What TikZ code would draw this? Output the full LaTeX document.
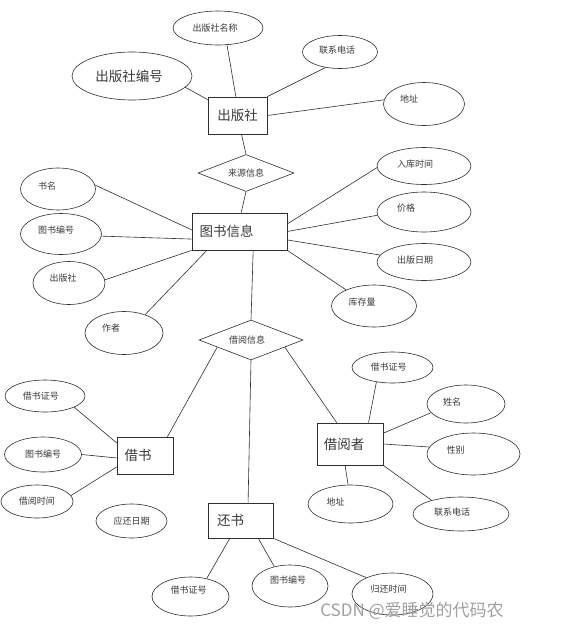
\documentclass[tikz,border=0pt]{standalone}
\usepackage{fontspec}
\setmainfont{Noto Sans CJK SC}
\usetikzlibrary{shapes.geometric}
\definecolor{inkline}{HTML}{2F2F2F}
\definecolor{inktext}{HTML}{3A3A3A}
\definecolor{markgrey}{HTML}{A0A0A0}
\newcommand{\smallcjk}{\fontsize{9pt}{10pt}\selectfont}
\newcommand{\bigcjk}{\fontsize{13.5pt}{15pt}\selectfont}
% text sits off-centre in most shapes: kern pushes it left, raise lifts it
\newcommand{\nudge}[3]{\raisebox{#2}{#3}\kern#1}
\tikzset{
  attrell/.style 2 args = {ellipse, draw=inkline, line width=0.6pt, inner sep=0pt,
                   minimum width=#1, minimum height=#2, text=inktext, font=\smallcjk},
  entbox/.style 2 args  = {rectangle, draw=inkline, line width=0.7pt, inner sep=0pt,
                   minimum width=#1, minimum height=#2, text=inktext, font=\bigcjk},
  relbox/.style 2 args  = {diamond, draw=inkline, line width=0.6pt, inner sep=0pt, aspect=2.5,
                   minimum width=#1, minimum height=#2, text=inktext, font=\smallcjk},
  link/.style = {draw=inkline, line width=0.6pt},
}

\begin{document}
\begin{tikzpicture}[x=1pt,y=-1pt]
    \useasboundingbox[fill=white] (0,0) rectangle (567,630);
    % publisher
    \node[entbox={59pt}{37pt}] (pub) at (237.5,115.5) {出版社};
    \node[attrell={90pt}{34pt}] (pubname) at (218,28) {\nudge{6pt}{0pt}{出版社名称}};
    \node[attrell={120pt}{48pt},font=\bigcjk] (pubid) at (132,76) {\nudge{6pt}{0pt}{出版社编号}};
    \node[attrell={75pt}{33pt}] (pubtel) at (340,52) {\nudge{6pt}{4pt}{联系电话}};
    \node[attrell={81pt}{43pt}] (pubaddr) at (424,104) {\nudge{30pt}{10pt}{地址}};
    \node[relbox={96pt}{37pt}] (src) at (246,173) {来源信息};
    % book
    \node[entbox={95pt}{37pt}] (book) at (239.5,231.5) {\nudge{26pt}{0pt}{图书信息}};
    \node[attrell={75pt}{42pt}] (bname) at (58,189) {\nudge{22pt}{6pt}{书名}};
    \node[attrell={81pt}{41pt}] (bid) at (61,234) {\nudge{10pt}{8pt}{图书编号}};
    \node[attrell={72pt}{43pt}] (bpub) at (69,283) {\nudge{12pt}{10pt}{出版社}};
    \node[attrell={78pt}{43pt}] (bauthor) at (124,333) {\nudge{26pt}{10pt}{作者}};
    \node[attrell={94pt}{37pt}] (bin) at (424,166) {\nudge{18pt}{4pt}{入库时间}};
    \node[attrell={94pt}{40pt}] (bprice) at (424,212) {\nudge{36pt}{8pt}{价格}};
    \node[attrell={94pt}{37pt}] (bdate) at (424,262) {\nudge{18pt}{4pt}{出版日期}};
    \node[attrell={85pt}{42pt}] (bstock) at (374,306) {\nudge{24pt}{8pt}{库存量}};
    \node[relbox={104pt}{40pt}] (lend) at (251,340) {\nudge{8pt}{0pt}{借阅信息}};
    % borrowing
    \node[entbox={56pt}{37pt}] (borrow) at (145,455.5) {\nudge{14pt}{0pt}{借书}};
    \node[attrell={80pt}{32pt}] (lcard) at (45,396) {\nudge{8pt}{0pt}{借书证号}};
    \node[attrell={77pt}{35pt}] (lbid) at (43,454.5) {图书编号};
    \node[attrell={72pt}{33pt}] (ltime) at (37,501.5) {借阅时间};
    \node[attrell={71pt}{34pt}] (due) at (131.5,521) {应还日期};
    % reader
    \node[entbox={66pt}{42pt}] (reader) at (350,444) {\nudge{12pt}{0pt}{借阅者}};
    \node[attrell={81pt}{31pt}] (rcard) at (392.5,367.5) {\nudge{8pt}{0pt}{借书证号}};
    \node[attrell={78pt}{38pt}] (rname) at (466,404) {\nudge{28pt}{4pt}{姓名}};
    \node[attrell={93pt}{42pt}] (rsex) at (473.5,454) {\nudge{36pt}{8pt}{性别}};
    \node[attrell={85pt}{38pt}] (raddr) at (350.5,504) {\nudge{30pt}{4pt}{地址}};
    \node[attrell={96pt}{34pt}] (rtel) at (461,514) {\nudge{18pt}{4pt}{联系电话}};
    % returning
    \node[entbox={65pt}{35pt}] (ret) at (240.5,520.5) {\nudge{20pt}{0pt}{还书}};
    \node[attrell={77pt}{39pt}] (tcard) at (190.5,596.5) {\nudge{4pt}{14pt}{借书证号}};
    \node[attrell={76pt}{42pt}] (tbid) at (290,586) {\nudge{4pt}{12pt}{图书编号}};
    \node[attrell={81pt}{42pt}] (ttime) at (392.5,594) {\nudge{8pt}{10pt}{归还时间}};
    % watermark
    \node[font=\fontsize{17pt}{19pt}\selectfont,text=markgrey] (mark) at (412,611) {CSDN @爱睡觉的代码农};

    \draw[link] (pubid.-12) -- (pub.152);
    \draw[link] (pubname.-62) -- (pub.95);
    \draw[link] (pubtel.-133) -- (pub.north east);
    \draw[link] (pubaddr.174) -- (pub.east);
    \draw[link] (pub.-78) -- (src.north);
    \draw[link] (src.south) -- (book.85);
    \draw[link] (bname.6) -- (book.178);
    \draw[link] (bid.-3) -- (book.189);
    \draw[link] (bpub.5) -- (book.south west);
    \draw[link] (bauthor.41) -- (book.210);
    \draw[link] (bin.182) -- (book.9);
    \draw[link] (bprice.184) -- (book.east);
    \draw[link] (bdate.171) -- (book.-10);
    \draw[link] (bstock.150) -- (book.south east);
    \draw[link] (book.-54) -- (lend.north);
    \draw[link] (lend.192) -- (borrow.40);
    \draw[link] (lend.-12) -- (reader.122);
    \draw[link] (lend.south) -- (ret.67);
    \draw[link] (lcard.-21) -- (borrow.156);
    \draw[link] (lbid.east) -- (borrow.185);
    \draw[link] (ltime.10) -- (borrow.202);
    \draw[link] (rcard.222) -- (reader.49);
    \draw[link] (rname.194) -- (reader.18);
    \draw[link] (rsex.171) -- (reader.east);
    \draw[link] (raddr.97) -- (reader.257);
    \draw[link] (rtel.155) -- (reader.south east);
    \draw[link] (tcard.48) -- (ret.239);
    \draw[link] (tbid.129) -- (ret.-45);
    \draw[link] (ttime.148) -- (ret.south east);
\end{tikzpicture}
\end{document}
